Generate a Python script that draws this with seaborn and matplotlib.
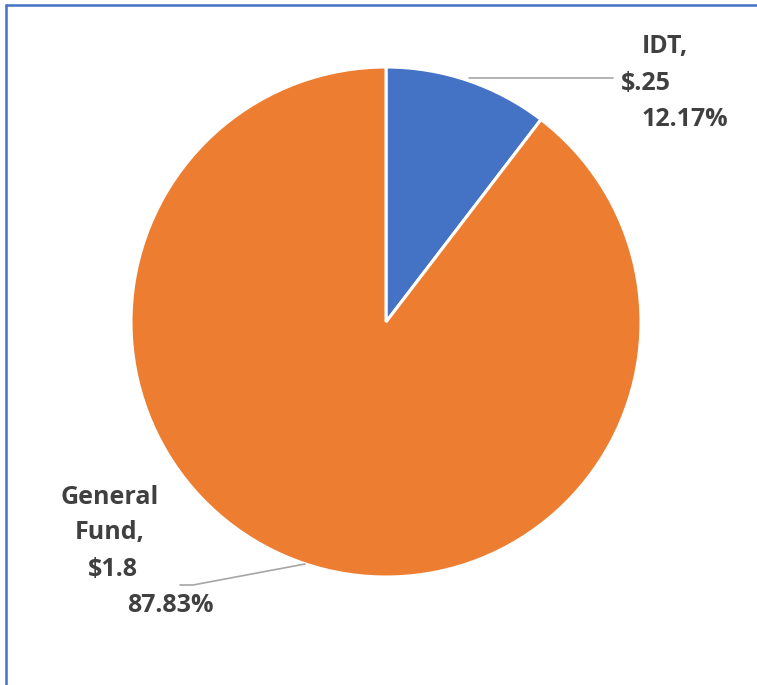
import matplotlib
matplotlib.use("Agg")
import matplotlib.pyplot as plt
import seaborn as sns
from matplotlib.lines import Line2D

# data
names = ["IDT", "General Fund"]
amounts = ["$.25", "$1.8"]
percents = ["12.17%", "87.83%"]
# wedge shares as drawn in the picture
shares = [10.4, 89.6]
colors = ["#4472C4", "#ED7D31"]

sns.set_style("white")
plt.rcParams['font.family'] = ['Open Sans', 'DejaVu Sans']

W, H = 757, 685
fig = plt.figure(figsize=(W / 100, H / 100), dpi=100)

def fx(x):
    return x / W

def fy(y):
    return 1 - y / H

# pie centre / radius in pixels
cx, cy, r = 386, 322, 255
ax = fig.add_axes([fx(cx - r), fy(cy + r), 2 * r / W, 2 * r / H])
ax.pie(shares, colors=colors, startangle=90, counterclock=False,
       wedgeprops=dict(edgecolor="white", linewidth=2.2))
ax.set_xlim(-1, 1)
ax.set_ylim(-1, 1)
ax.set_axis_off()

txt = dict(fontsize=18, fontweight="bold", color="#404040", ha="center", va="center")

# IDT label
fig.text(fx(665), fy(47), names[0] + ",", **txt)
fig.text(fx(646), fy(83), amounts[0], **txt)
fig.text(fx(685), fy(119), percents[0], **txt)
fig.add_artist(Line2D([fx(469), fx(613)], [fy(78), fy(78)], color="#A6A6A6", lw=1.2))

# General Fund label
fig.text(fx(110), fy(497), "General", **txt)
fig.text(fx(110), fy(533), "Fund,", **txt)
fig.text(fx(113), fy(569), amounts[1], **txt)
fig.text(fx(170), fy(606), percents[1], **txt)
fig.add_artist(Line2D([fx(180), fx(193), fx(305)], [fy(585), fy(585), fy(564)],
                      color="#A6A6A6", lw=1.2))

# chart-area border (only top and left visible)
fig.add_artist(Line2D([fx(6), fx(W)], [fy(5), fy(5)], color="#4472C4", lw=1.8))
fig.add_artist(Line2D([fx(6), fx(6)], [fy(5), fy(H)], color="#4472C4", lw=1.8))

fig.savefig("out.png", dpi=100, facecolor="white")
